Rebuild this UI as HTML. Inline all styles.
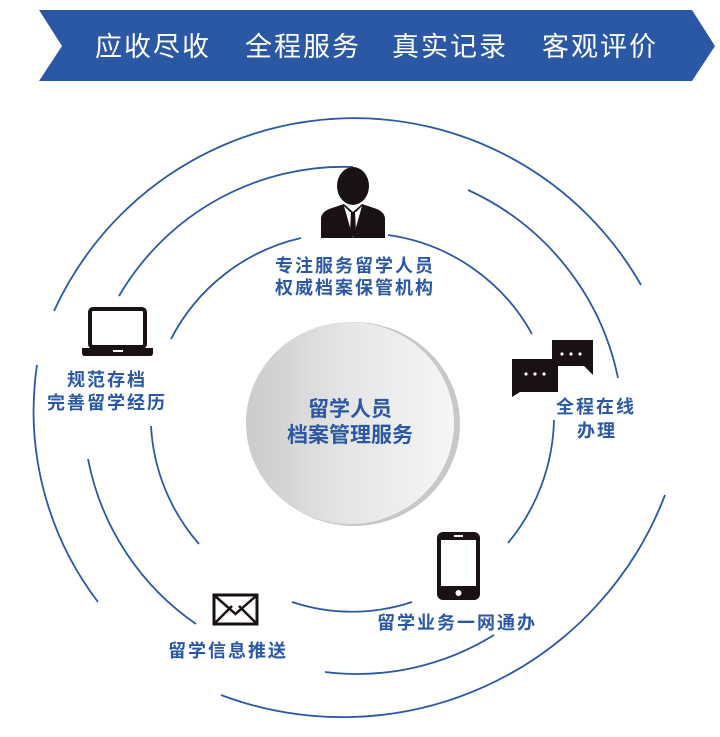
<!DOCTYPE html>
<html><head><meta charset="utf-8"><style>
html,body{margin:0;padding:0;background:#fff;}
body{width:720px;height:737px;overflow:hidden;position:relative;font-family:"Liberation Sans","Noto Sans CJK SC",sans-serif;}
svg{position:absolute;left:0;top:0;}
</style></head><body>
<svg width="720" height="737" viewBox="0 0 720 737">
<defs>
<linearGradient id="g" x1="0" y1="0" x2="1" y2="0">
<stop offset="0" stop-color="#cbcbcb"/><stop offset="0.5" stop-color="#e6e6e6"/><stop offset="1" stop-color="#f6f6f6"/>
</linearGradient>
</defs>
<polygon points="39,10 692,10 715,46 692,81 39,81 62,46" fill="#2b58a4"/>
<g fill="#fff" font-size="27" font-family="Liberation Sans, Noto Sans CJK SC, sans-serif" letter-spacing="2">
<text x="95" y="56">应收尽收</text>
<text x="245" y="56">全程服务</text>
<text x="392" y="56">真实记录</text>
<text x="542" y="56">客观评价</text>
</g>
<g fill="none" stroke="#2b58a4" stroke-width="1.8">
<path d="M54,311 A330 330 0 0 1 641,285"/>
<path d="M119,296 A260 260 0 0 1 353,167"/>
<path d="M171,339 A195 195 0 0 1 301,238"/>
<path d="M388,235 A195 195 0 0 1 532,334"/>
<path d="M468,190 A265 265 0 0 1 618,378"/>
<path d="M98,602 A315 315 0 0 1 37,365"/>
<path d="M199,544 A195 195 0 0 1 151,426"/>
<path d="M196,624 A260 260 0 0 1 88,459"/>
<path d="M412,602 A190 190 0 0 1 292,602"/>
<path d="M554,420 A200 200 0 0 1 508,543"/>
<path d="M494,635 A260 260 0 0 1 325,672"/>
<path d="M665,495 A345 345 0 0 1 221,695"/>
</g>
<ellipse cx="354" cy="424" rx="106" ry="102" fill="#c8c8c8"/>
<ellipse cx="350" cy="423" rx="104" ry="101" fill="url(#g)"/>
<g fill="#2b58a4" font-weight="bold" font-size="21" text-anchor="middle">
<text x="350" y="416">留学人员</text>
<text x="350" y="442">档案管理服务</text>
</g>
<g fill="#1a1212">
<ellipse cx="353" cy="186" rx="16" ry="19"/>
<path d="M321,238 L321,218 Q322,211 332,208 L344,204 L353,212 L362,204 L374,208 Q384,211 385,218 L385,238 Z"/>
</g>
<path d="M344,206 L353,238 L362,206 L356,212 L350,212 Z" fill="#fff"/>
<path d="M351,212 L355,212 L356,232 L353,237 L350,232 Z" fill="#1a1212"/>
<rect x="90" y="309" width="55" height="38" rx="3" fill="#fff" stroke="#1a1212" stroke-width="4"/>
<path d="M82,348 L153,348 L153,353 Q153,356 150,356 L85,356 Q82,356 82,353 Z" fill="#1a1212"/>
<rect x="113" y="350" width="10" height="2" fill="#fff"/>
<path d="M552,340 L593,340 L593,375 L584,366 L552,366 Z" fill="#1a1212"/>
<path d="M512,359 L558,359 L558,392 L520,392 L512,397 Z" fill="#1a1212"/>
<g fill="#fff"><circle cx="562" cy="354" r="1.6"/><circle cx="571" cy="354" r="1.6"/><circle cx="580" cy="354" r="1.6"/>
<circle cx="526" cy="374" r="1.6"/><circle cx="535" cy="374" r="1.6"/><circle cx="544" cy="374" r="1.6"/></g>
<rect x="437" y="532" width="43" height="68" rx="6" fill="#1a1212"/>
<rect x="441" y="540" width="35" height="46" fill="#fff"/>
<rect x="454" y="535" width="9" height="2" fill="#fff"/>
<circle cx="458.5" cy="593" r="3" fill="#fff"/>
<rect x="214" y="595" width="43" height="29" fill="#fff" stroke="#1a1212" stroke-width="3"/>
<path d="M215,596 L235.5,614 L256,596 M215,623 L232,606 M256,623 L239,606" fill="none" stroke="#1a1212" stroke-width="2.5"/>
<g fill="#2b58a4" font-weight="bold" font-size="18">
<text x="275" y="272" letter-spacing="2">专注服务留学人员</text>
<text x="275" y="294" letter-spacing="2">权威档案保管机构</text>
<text x="67" y="386" letter-spacing="2">规范存档</text>
<text x="47" y="409" letter-spacing="2">完善留学经历</text>
<text x="556" y="413" letter-spacing="2">全程在线</text>
<text x="577" y="437" letter-spacing="2">办理</text>
<text x="377" y="629" letter-spacing="2">留学业务一网通办</text>
<text x="168" y="657" letter-spacing="2">留学信息推送</text>
</g>
</svg>
</body></html>
